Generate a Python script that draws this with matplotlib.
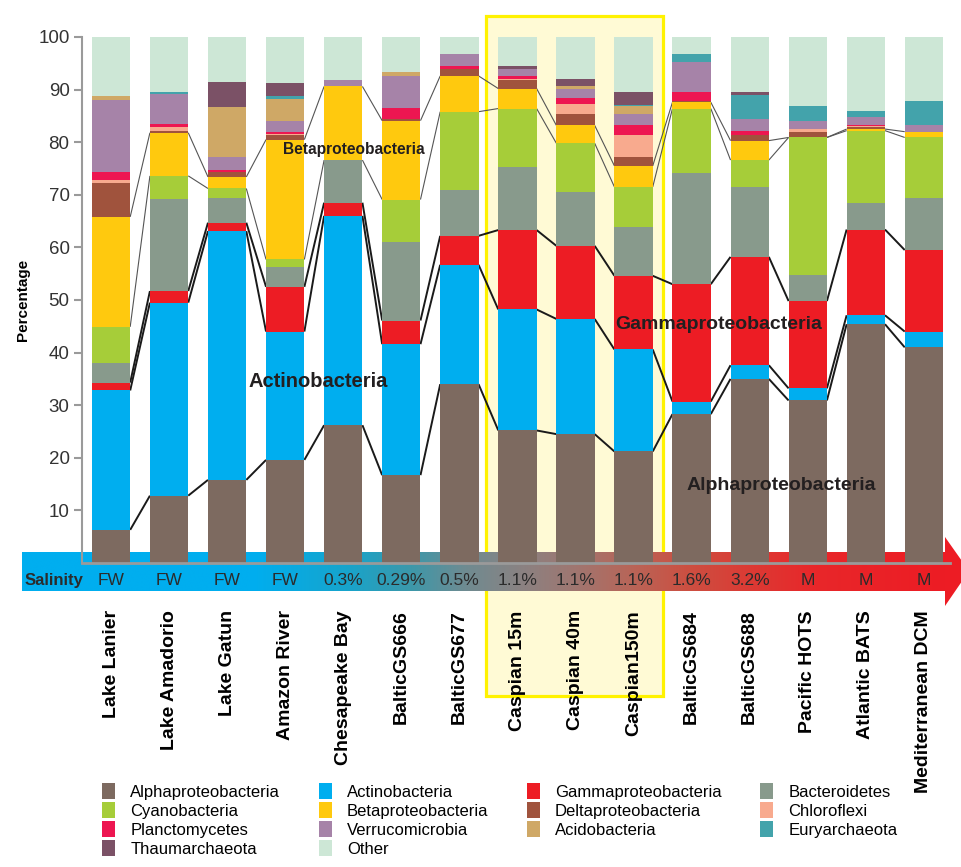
import numpy as np
import matplotlib
matplotlib.use("Agg")
import matplotlib.pyplot as plt
from matplotlib.colors import LinearSegmentedColormap
from matplotlib.patches import Rectangle, Polygon, Patch

plt.rcParams['font.family'] = ['Liberation Sans', 'DejaVu Sans']
NARROW = ['Liberation Sans Narrow', 'Liberation Sans', 'DejaVu Sans']

# samples, left (fresh water) to right (marine)
samples = ["Lake Lanier", "Lake Amadorio", "Lake Gatun", "Amazon River",
           "Chesapeake Bay", "BalticGS666", "BalticGS677", "Caspian 15m",
           "Caspian 40m", "Caspian150m", "BalticGS684", "BalticGS688",
           "Pacific HOTS", "Atlantic BATS", "Mediterranean DCM"]
salinity = ["FW", "FW", "FW", "FW", "0.3%", "0.29%", "0.5%", "1.1%", "1.1%",
            "1.1%", "1.6%", "3.2%", "M", "M", "M"]

# percentage of each group per sample, stacked bottom to top
alpha = [6.3, 12.8, 15.8, 19.6, 26.2, 16.7, 34.0, 25.2, 24.5, 21.2, 28.3, 35.0, 30.9, 45.4, 41.0]
actino = [26.5, 36.7, 47.3, 24.4, 39.8, 24.9, 22.7, 23.0, 21.9, 19.4, 2.4, 2.6, 2.3, 1.7, 3.0]
gamma = [1.5, 2.2, 1.6, 8.5, 2.5, 4.5, 5.5, 15.1, 13.9, 14.0, 22.3, 20.6, 16.6, 16.3, 15.5]
bacteroidetes = [3.8, 17.5, 4.7, 3.7, 8.1, 15.0, 8.8, 11.9, 10.2, 9.3, 21.2, 13.3, 5.0, 5.0, 9.9]
cyano = [6.8, 4.4, 1.8, 1.5, 0.0, 8.0, 14.8, 11.2, 9.3, 7.6, 12.2, 5.1, 26.1, 13.8, 11.5]
beta = [20.9, 8.2, 2.2, 22.8, 14.0, 15.0, 6.8, 3.8, 3.4, 4.0, 1.2, 3.7, 0.0, 0.3, 1.1]
delta = [6.5, 0.3, 1.0, 0.9, 0.0, 0.3, 1.3, 1.7, 2.2, 1.7, 0.2, 1.1, 1.0, 0.3, 0.0]
chloroflexi = [0.5, 0.8, 0.0, 0.2, 0.0, 0.0, 0.0, 0.2, 1.8, 4.1, 0.0, 0.0, 0.7, 0.3, 0.0]
plancto = [1.6, 0.6, 0.3, 0.3, 0.0, 2.1, 0.5, 0.4, 1.2, 1.9, 1.8, 0.8, 0.0, 0.2, 0.0]
verruco = [13.6, 5.7, 2.4, 2.2, 1.2, 6.1, 2.3, 1.5, 1.7, 2.1, 5.6, 2.3, 1.4, 1.4, 1.3]
acido = [0.8, 0.0, 9.5, 4.1, 0.0, 0.7, 0.0, 0.0, 0.5, 1.5, 0.0, 0.0, 0.0, 0.0, 0.0]
eury = [0.0, 0.3, 0.0, 0.6, 0.0, 0.0, 0.0, 0.0, 0.0, 0.3, 1.6, 4.5, 2.9, 1.2, 4.5]
thaum = [0.0, 0.0, 4.9, 2.5, 0.0, 0.0, 0.0, 0.4, 1.5, 2.4, 0.0, 0.6, 0.0, 0.0, 0.0]
other = [11.2, 10.5, 8.5, 8.7, 8.2, 6.7, 3.3, 5.6, 7.9, 10.5, 3.2, 10.4, 13.1, 14.1, 12.2]

groups = [
    ("Alphaproteobacteria", alpha, "#7d6a60"),
    ("Actinobacteria", actino, "#00aeef"),
    ("Gammaproteobacteria", gamma, "#ed1c24"),
    ("Bacteroidetes", bacteroidetes, "#889a8c"),
    ("Cyanobacteria", cyano, "#a6cd39"),
    ("Betaproteobacteria", beta, "#ffc90e"),
    ("Deltaproteobacteria", delta, "#a0533d"),
    ("Chloroflexi", chloroflexi, "#f8aa8e"),
    ("Planctomycetes", plancto, "#ed1651"),
    ("Verrucomicrobia", verruco, "#a683a8"),
    ("Acidobacteria", acido, "#cfa866"),
    ("Euryarchaeota", eury, "#43a3ab"),
    ("Thaumarchaeota", thaum, "#7b5166"),
    ("Other", other, "#cde7d6"),
]
colors = {name: c for name, _, c in groups}

fig = plt.figure(figsize=(9.62, 8.67), dpi=100)

# background layer in pixel units: Caspian highlight box and salinity arrow
bg = fig.add_axes([0, 0, 1, 1], zorder=0)
bg.set_xlim(0, 962)
bg.set_ylim(867, 0)
bg.axis("off")
bg.add_patch(Rectangle((486, 16), 177, 680, facecolor="#fffad5",
                       edgecolor="#fff200", linewidth=2.3, zorder=1))
salt_cmap = LinearSegmentedColormap.from_list("salt", [
    (0.0, "#00aeef"), (0.25, "#00aeef"), (0.35, "#17a4cc"),
    (0.42, "#3c98aa"), (0.48, "#6f8b91"), (0.54, "#8a8282"),
    (0.60, "#a07670"), (0.66, "#b86558"), (0.72, "#cc5042"),
    (0.79, "#dc3a34"), (0.86, "#e8272a"), (1.0, "#ed1c24")])
bg.imshow(np.linspace(0, 1, 512).reshape(1, -1), cmap=salt_cmap,
          extent=[22, 946, 591, 552], aspect="auto", interpolation="bicubic",
          zorder=2)
bg.add_patch(Polygon([(945, 537), (945, 606), (969, 571)], closed=True,
                     facecolor="#ed1c24", edgecolor="none", zorder=2))
bg.set_xlim(0, 962)
bg.set_ylim(867, 0)

ax = fig.add_axes([82 / 962, 304 / 867, 868 / 962, 526 / 867], zorder=1)
ax.patch.set_alpha(0)

x = np.arange(len(samples))
width = 0.66
bottom = np.zeros(len(samples))
tops = {}
for name, vals, color in groups:
    vals = np.array(vals)
    ax.bar(x, vals, width, bottom=bottom, color=color, edgecolor="none",
           zorder=3)
    tops[name + "_bottom"] = bottom.copy()
    bottom = bottom + vals
    tops[name] = bottom.copy()

# connect boundaries between neighbouring bars
def connect(levels, **kw):
    for i in range(len(samples) - 1):
        ax.plot([x[i] + width / 2, x[i + 1] - width / 2],
                [levels[i], levels[i + 1]], solid_capstyle="butt",
                zorder=2, **kw)

for name in ["Alphaproteobacteria", "Actinobacteria", "Gammaproteobacteria"]:
    connect(tops[name], color="#1a1a1a", lw=1.4)
connect(tops["Betaproteobacteria_bottom"], color="#555555", lw=0.8)
connect(tops["Betaproteobacteria"], color="#555555", lw=0.8)

ax.set_xlim(-0.5, 14.45)
ax.set_ylim(0, 100)
ax.set_yticks(np.arange(10, 101, 10))
ax.tick_params(axis="y", direction="out", length=6, width=1.5,
               colors="#9a9a9a", labelcolor="#333333", labelsize=13.5, pad=3)
ax.set_xticks(x)
ax.set_xticklabels(samples, rotation=90, fontsize=14, fontweight="bold",
                   va="top")
ax.tick_params(axis="x", length=0, pad=34, labelcolor="black")
for s in ["top", "right"]:
    ax.spines[s].set_visible(False)
ax.spines["left"].set_color("#9a9a9a")
ax.spines["left"].set_linewidth(1.5)
ax.spines["bottom"].set_color("#9a9a9a")
ax.spines["bottom"].set_linewidth(2)
ax.spines["bottom"].set_zorder(4)
ax.set_ylabel("Percentage", fontsize=11, fontweight="bold", labelpad=6)

# salinity row along the arrow
xt = ax.get_xaxis_transform()
for xi, s in zip(x, salinity):
    ax.text(xi, -0.034, s, transform=xt, ha="center", va="center",
            fontsize=12.5, color="#2b2b2b", family=NARROW, clip_on=False)
fig.text(25 / 962, 1 - 581 / 867, "Salinity", ha="left", va="center",
         fontsize=12, fontweight="bold", color="#2b2b2b", family=NARROW)

# group names written on the bars
lab = dict(fontweight="bold", color="#231f20", ha="center", va="center")
ax.text(4.18, 78.6, "Betaproteobacteria", fontsize=11.2, **lab)
ax.text(3.56, 34.6, "Actinobacteria", fontsize=14.5, **lab)
ax.text(10.47, 45.4, "Gammaproteobacteria", fontsize=14, **lab)
ax.text(11.55, 14.8, "Alphaproteobacteria", fontsize=14, **lab)

handles = [Patch(facecolor=colors[n], edgecolor="none", label=n) for n in [
    "Alphaproteobacteria", "Cyanobacteria", "Planctomycetes", "Thaumarchaeota",
    "Actinobacteria", "Betaproteobacteria", "Verrucomicrobia", "Other",
    "Gammaproteobacteria", "Deltaproteobacteria", "Acidobacteria",
    "Bacteroidetes", "Chloroflexi", "Euryarchaeota"]]
fig.legend(handles=handles, ncol=4, loc="upper left",
           bbox_to_anchor=(0.106, 0.097), frameon=False,
           prop={"family": NARROW, "size": 12}, handlelength=0.8,
           handleheight=1.1, handletextpad=0.9, labelspacing=0.15,
           columnspacing=2.3, borderaxespad=0, borderpad=0)

fig.savefig("out.png", dpi=100)
